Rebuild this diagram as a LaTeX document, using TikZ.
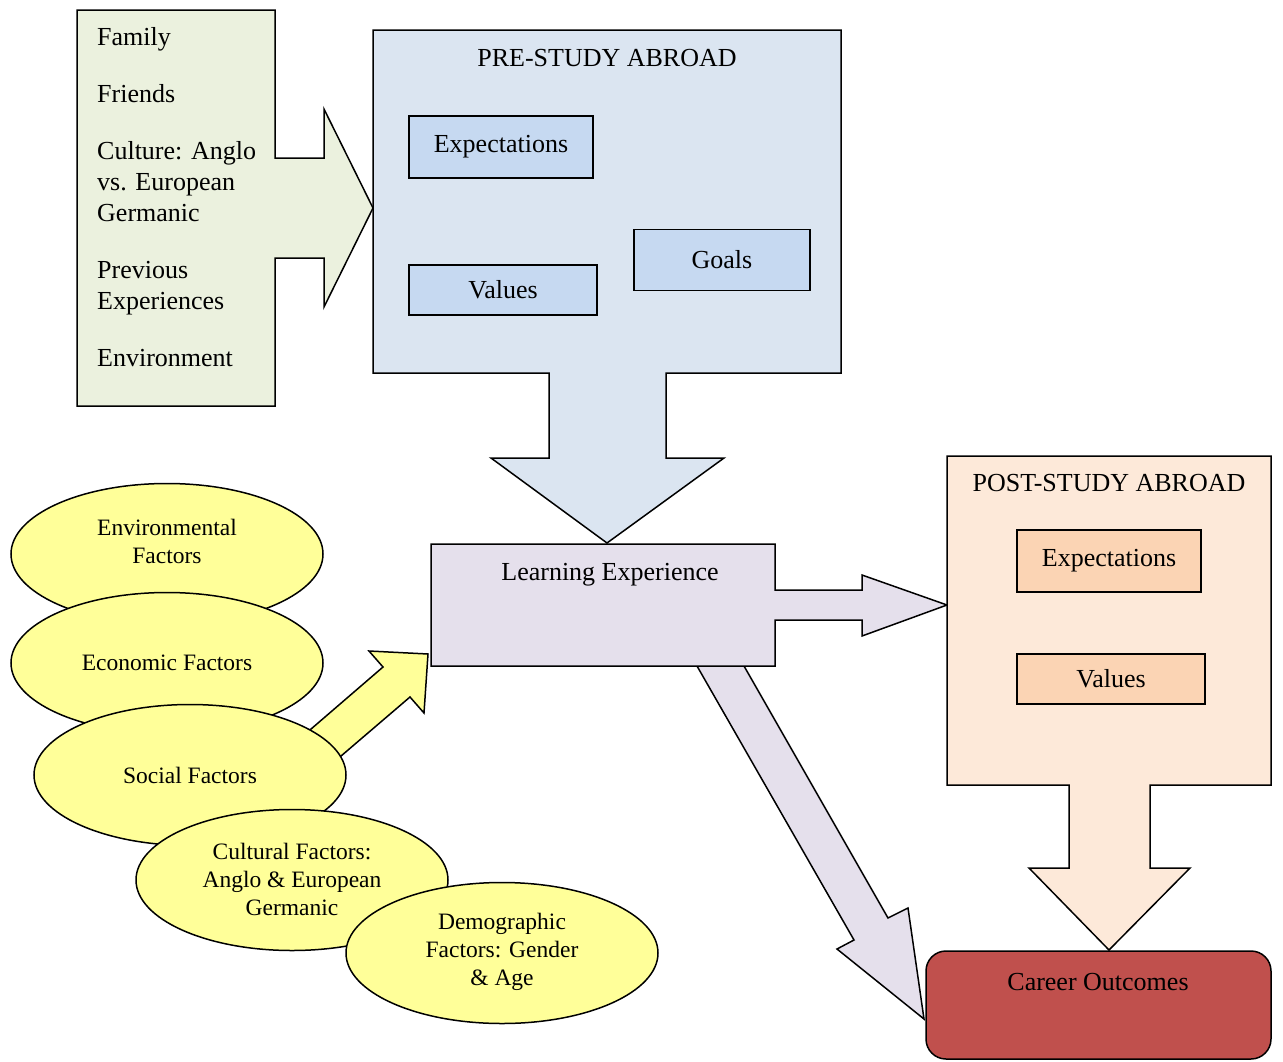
\documentclass[tikz,border=0pt]{standalone}
\usepackage{fontspec}
\setmainfont{Liberation Serif}
\usetikzlibrary{shapes.geometric}
\definecolor{grn}{HTML}{EBF1DE}
\definecolor{preblue}{HTML}{DBE5F1}
\definecolor{inblue}{HTML}{C6D9F1}
\definecolor{lav}{HTML}{E5E0EC}
\definecolor{peach}{HTML}{FDE9D9}
\definecolor{inpeach}{HTML}{FBD4B4}
\definecolor{yel}{HTML}{FFFF99}
\definecolor{career}{HTML}{C0504D}
\tikzset{
  shp/.style={draw=black, line width=1.5pt, line join=miter},
  txt/.style={inner sep=0pt, font=\fontsize{26}{31}\selectfont},
  etxt/.style={inner sep=0pt, align=center, font=\fontsize{23.5}{28}\selectfont},
  ellip/.style={ellipse, draw=black, line width=1.5pt, fill=yel, minimum width=312pt, minimum height=141pt, inner sep=0pt},
  inbox/.style={rectangle, draw=black, line width=1.5pt, inner sep=0pt, font=\fontsize{26}{31}\selectfont}
}
\begin{document}
\begin{tikzpicture}[x=1pt,y=-1pt]
\useasboundingbox (0,0) rectangle (1283,1061);

% left influences callout
\draw[shp, fill=grn] (77,10) -- (275,10) -- (275,158) -- (324,158) -- (324,109) -- (373,208)
  -- (324,307) -- (324,258) -- (275,258) -- (275,406) -- (77,406) -- cycle;
\node[txt, anchor=base west] (g1) at (97,45) {Family};
\node[txt, anchor=base west] (g2) at (97,102) {Friends};
\node[txt, anchor=base west] (g3) at (97,159) {Culture: Anglo};
\node[txt, anchor=base west] (g4) at (97,190) {vs. European};
\node[txt, anchor=base west] (g5) at (97,221) {Germanic};
\node[txt, anchor=base west] (g6) at (97,278) {Previous};
\node[txt, anchor=base west] (g7) at (97,309) {Experiences};
\node[txt, anchor=base west] (g8) at (97,366) {Environment};

% pre-study callout
\draw[shp, fill=preblue] (373,30) -- (841,30) -- (841,373) -- (666,373) -- (666,458) -- (724,458)
  -- (607,543) -- (491,458) -- (549,458) -- (549,373) -- (373,373) -- cycle;
\node[txt, anchor=base] (pret) at (607,66) {PRE-STUDY ABROAD};
\node[inbox, fill=inblue, minimum width=184pt, minimum height=62pt] (pexp) at (501,147) {Expectations};
\node[inbox, fill=inblue, minimum width=188pt, minimum height=50pt] (pval) at (503,290) {Values};
\node[inbox, fill=inblue, minimum width=176pt, minimum height=61pt] (pgoal) at (722,260) {Goals};

% diagonal arrow to career outcomes (behind learning box)
\draw[shp, fill=lav] (697,666) -- (854,940) -- (837,949) -- (924,1019) -- (908,908) -- (888,918) -- (744,666) -- cycle;

% learning experience callout
\draw[shp, fill=lav] (431,544) -- (775,544) -- (775,590) -- (862,590) -- (862,575) -- (947,605)
  -- (862,636) -- (862,620) -- (775,620) -- (775,666) -- (431,666) -- cycle;
\node[txt, anchor=base] (let) at (610,580) {Learning Experience};

% post-study callout
\draw[shp, fill=peach] (947,456) -- (1271,456) -- (1271,785) -- (1150,785) -- (1150,868) -- (1190,868)
  -- (1109,950) -- (1029,868) -- (1069,868) -- (1069,785) -- (947,785) -- cycle;
\node[txt, anchor=base] (postt) at (1109,491) {POST-STUDY ABROAD};
\node[inbox, fill=inpeach, minimum width=184pt, minimum height=62pt] (qexp) at (1109,561) {Expectations};
\node[inbox, fill=inpeach, minimum width=188pt, minimum height=50pt] (qval) at (1111,679) {Values};

% career outcomes
\node[rectangle, rounded corners=20pt, draw=black, line width=1.5pt, fill=career,
      minimum width=345pt, minimum height=108pt, inner sep=0pt] (car) at (1098.5,1005) {};
\node[txt, anchor=base] (cart) at (1098,990) {Career Outcomes};

% factor ellipses
\node[ellip] (env) at (167,554) {};
\node[etxt] (envt) at (167,541) {Environmental\\Factors};
\node[ellip] (eco) at (167,663) {};
\node[etxt] (ecot) at (167,663) {Economic Factors};
% yellow arrow from social factors to learning experience
\draw[shp, fill=yel] (289,748) -- (383,667) -- (369,651) -- (428,654) -- (424,713) -- (410,697) -- (320,774) -- cycle;
\node[ellip] (soc) at (190,775) {};
\node[etxt] (soct) at (190,775) {Social Factors};
\node[ellip] (cul) at (292,880) {};
\node[etxt] (cult) at (292,879) {Cultural Factors:\\Anglo \& European\\Germanic};
\node[ellip] (dem) at (502,953) {};
\node[etxt] (demt) at (502,952) {Demographic\\Factors: Gender\\\& Age};
\end{tikzpicture}
\end{document}
